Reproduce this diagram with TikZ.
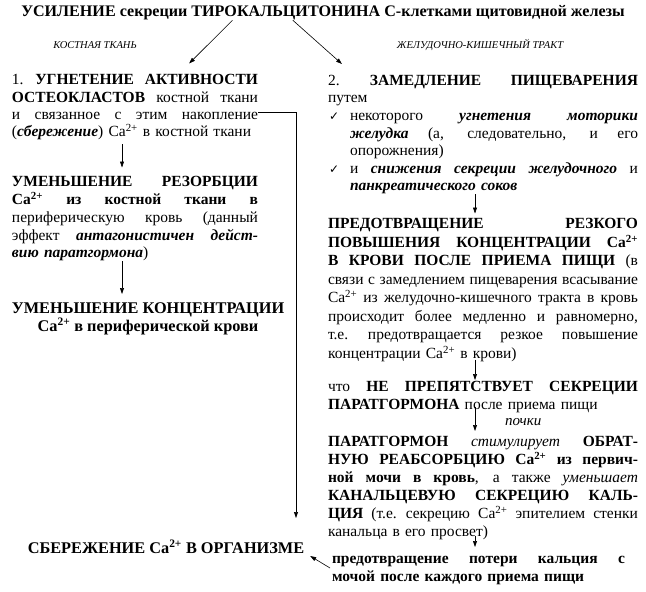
\documentclass[tikz,border=0pt]{standalone}
\usepackage{fontspec}
\setmainfont{Liberation Serif}
\newfontfamily\symfont{DejaVu Sans}
\usetikzlibrary{arrows.meta,calc,positioning}
% one justified line, one indented line with a tick
\newlength{\colw}
\newcommand{\spread}[2]{\leavevmode\hbox to #1{\spaceskip=.25em plus 1fil\xspaceskip=.3em plus 1fil #2}}
\newcommand{\jl}[1]{\spread{\colw}{#1}}
\newcommand{\ca}{Ca\textsuperscript{2+}}
\newcommand{\tick}[1]{\makebox[22pt][l]{\hspace{1pt}{\symfont\fontsize{12}{12}\selectfont ✓}}\spread{\dimexpr\colw-22pt\relax}{#1}}
\newcommand{\ind}[1]{\hspace*{22pt}#1}
\newcommand{\indjl}[1]{\hspace*{22pt}\spread{\dimexpr\colw-22pt\relax}{#1}}
\tikzset{
  every node/.style = {inner sep=0, outer sep=0},
  arrow/.style = {-{Triangle[length=6pt,width=4pt]}, semithick},
  block/.style = {anchor=north west, align=left, font=\fontsize{15.5}{#1}\selectfont},
  block/.default = 18,
  lblock/.style = {block=#1, text width=246pt, execute at begin node={\setlength{\colw}{246pt}}},
  lblock/.default = 18,
  rblock/.style = {block=#1, text width=310pt, execute at begin node={\setlength{\colw}{310pt}}},
  rblock/.default = 18,
  tag/.style = {font=\fontsize{10.5}{12}\selectfont\itshape}
}
\begin{document}
\begin{tikzpicture}[x=1pt, y=-1pt]
  \useasboundingbox (0,0) rectangle (646,592);
  % header
  \node[font=\fontsize{16.1}{18}\selectfont\bfseries] (title) at (323,13)
    {УСИЛЕНИЕ секреции ТИРОКАЛЬЦИТОНИНА С-клетками щитовидной железы};
  \node[tag] (bone) at (95,45) {КОСТНАЯ ТКАНЬ};
  \node[tag] (gut) at (480,45) {ЖЕЛУДОЧНО-КИШЕЧНЫЙ ТРАКТ};
  % left column
  \node[lblock=17.4] (osteo) at (12,74.5) {%
    \jl{1. \textbf{УГНЕТЕНИЕ АКТИВНОСТИ}}\\
    \jl{\textbf{ОСТЕОКЛАСТОВ} костной ткани}\\
    \jl{и связанное с этим накопление}\\
    (\textbf{\textit{сбережение}}) \ca{} в костной ткани};
  \node[lblock=17.8] (resorb) at (12,176.5) {%
    \jl{\textbf{УМЕНЬШЕНИЕ РЕЗОРБЦИИ}}\\
    \jl{\textbf{\ca{} из костной ткани в}}\\
    \jl{периферическую кровь (данный}\\
    \jl{эффект \textbf{\textit{антагонистичен дейст-}}}\\
    \textbf{\textit{вию паратгормона}})};
  \node[anchor=north, align=center, font=\fontsize{16.3}{18}\selectfont\bfseries] (conc) at (148,303)
    {УМЕНЬШЕНИЕ КОНЦЕНТРАЦИИ\\ \ca{} в периферической крови};
  \node[font=\fontsize{16.3}{18}\selectfont\bfseries] (save) at (166,547)
    {СБЕРЕЖЕНИЕ \ca{} В ОРГАНИЗМЕ};
  % right column
  \node[rblock=17.6] (digest) at (328,75) {%
    \jl{2. \textbf{ЗАМЕДЛЕНИЕ ПИЩЕВАРЕНИЯ}}\\
    путем\\
    \tick{некоторого \textbf{\textit{угнетения моторики}}}\\
    \indjl{\textbf{\textit{желудка}} (а, следовательно, и его}\\
    \ind{опорожнения)}\\
    \tick{и \textbf{\textit{снижения секреции желудочного}} и}\\
    \ind{\textbf{\textit{панкреатического соков}}}};
  \node[rblock=18.5] (prevent) at (328,218.5) {%
    \jl{\textbf{ПРЕДОТВРАЩЕНИЕ РЕЗКОГО}}\\
    \jl{\textbf{ПОВЫШЕНИЯ КОНЦЕНТРАЦИИ \ca}}\\
    \jl{\textbf{В КРОВИ ПОСЛЕ ПРИЕМА ПИЩИ} (в}\\
    \jl{связи с замедлением пищеварения всасывание}\\
    \jl{\ca{} из желудочно-кишечного тракта в кровь}\\
    \jl{происходит более медленно и равномерно,}\\
    \jl{т.е. предотвращается резкое повышение}\\
    концентрации \ca{} в крови)};
  \node[rblock] (pth) at (328,381) {%
    \jl{что \textbf{НЕ ПРЕПЯТСТВУЕТ СЕКРЕЦИИ}}\\
    \textbf{ПАРАТГОРМОНА} после приема пищи};
  \node[anchor=west, font=\fontsize{15}{18}\selectfont\itshape] (kidney) at (505,422) {почки};
  \node[rblock] (reabs) at (328,436) {%
    \jl{\textbf{ПАРАТГОРМОН} \textit{стимулирует} \textbf{ОБРАТ-}}\\
    \jl{\textbf{НУЮ РЕАБСОРБЦИЮ \ca{} из первич-}}\\
    \jl{\textbf{ной мочи в кровь}, а также \textit{уменьшает}}\\
    \jl{\textbf{КАНАЛЬЦЕВУЮ СЕКРЕЦИЮ КАЛЬ-}}\\
    \jl{\textbf{ЦИЯ} (т.е. секрецию \ca{} эпителием стенки}\\
    канальца в его просвет)};
  \node[block, text width=293pt, execute at begin node={\setlength{\colw}{293pt}}] (loss) at (332,556) {%
    \jl{\textbf{предотвращение потери кальция с}}\\
    \textbf{мочой после каждого приема пищи}};
  % arrow axes
  \coordinate (lx) at (122,0);
  \coordinate (rx) at (475,0);
  \coordinate (bx) at (296,0);
  % connectors
  \draw[arrow] ($(title.south west)!.35!(title.south east)$) -- ($(osteo.north west)!.72!(osteo.north east)+(0,-11)$);
  \draw[arrow] ($(title.south west)!.45!(title.south east)$) -- ($(digest.north west)!.045!(digest.north east)+(0,-11)$);
  \draw[arrow, shorten <=4pt, shorten >=9pt] (osteo.south -| lx) -- (resorb.north -| lx);
  \draw[arrow, shorten <=0pt, shorten >=9pt] (resorb.south -| lx) -- (conc.north -| lx);
  \draw[arrow] ($(osteo.north east)+(0,38)$) -| ($(save.north -| bx)+(0,-22)$);
  \draw[arrow, shorten <=0pt, shorten >=5pt] (digest.south -| rx) -- (prevent.north -| rx);
  \draw[arrow, shorten <=-2pt, shorten >=1pt] (prevent.south -| rx) -- (pth.north -| rx);
  \draw[arrow, shorten <=-6pt, shorten >=5pt] (pth.south -| rx) -- (reabs.north -| rx);
  \draw[arrow, shorten <=-4pt, shorten >=9pt] (reabs.south -| rx) -- (loss.north -| rx);
  \draw[arrow] ($(loss.north west)+(-2,12)$) -- ($(save.east)+(6,9)$);
\end{tikzpicture}
\end{document}
